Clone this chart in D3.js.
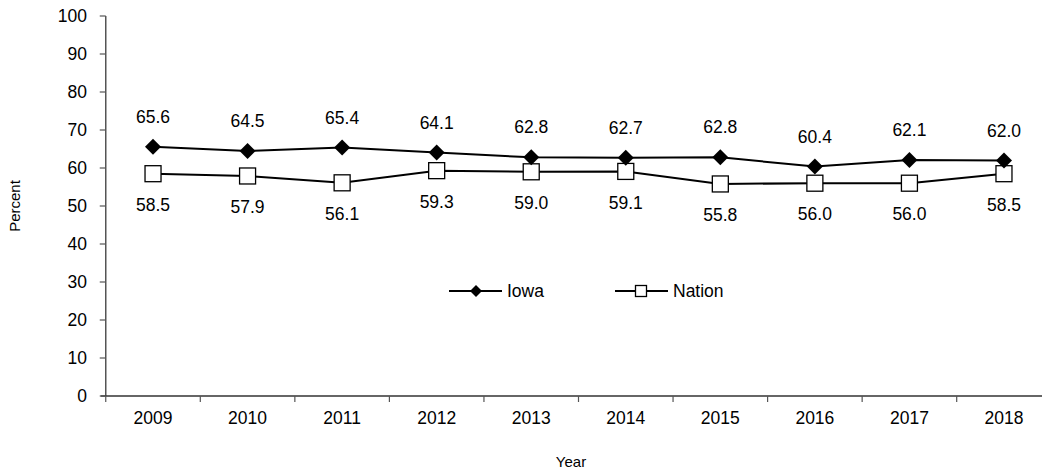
<!DOCTYPE html>
<html><head><meta charset="utf-8">
<script src="https://cdn.jsdelivr.net/npm/d3@7"></script>
<style>body{margin:0;background:#fff}svg{display:block;font-family:"Liberation Sans",Arial,sans-serif}</style>
</head><body><svg id="c" width="1042" height="476"></svg>
<script>
const years = ["2009","2010","2011","2012","2013","2014","2015","2016","2017","2018"];
const iowa = [65.6,64.5,65.4,64.1,62.8,62.7,62.8,60.4,62.1,62.0];
const nation = [58.5,57.9,56.1,59.3,59.0,59.1,55.8,56.0,56.0,58.5];
const yTicks = [0,10,20,30,40,50,60,70,80,90,100];

const svg = d3.select("#c");
const x = d3.scaleBand().domain(years).range([105.75, 1051.25]);
const y = d3.scaleLinear().domain([0,100]).range([396, 16]);
const cx = d => x(d) + x.bandwidth()/2;
const FS = 17.5;

// axes
const axisColor = "#555";
svg.append("line").attr("x1",x.range()[0]).attr("x2",x.range()[0]).attr("y1",y(0)).attr("y2",y(100)).attr("stroke",axisColor).attr("stroke-width",1.5);
svg.append("line").attr("x1",x.range()[0]-5).attr("x2",1042).attr("y1",y(0)).attr("y2",y(0)).attr("stroke","#333").attr("stroke-width",1.5);
yTicks.forEach(t=>{
  svg.append("line").attr("x1",x.range()[0]-6).attr("x2",x.range()[0]).attr("y1",y(t)).attr("y2",y(t)).attr("stroke",axisColor).attr("stroke-width",1.2);
  svg.append("text").attr("x",87).attr("y",y(t)).attr("dy","0.35em").attr("text-anchor","end").attr("font-size",FS).text(t);
});
years.forEach((yr,i)=>{
  svg.append("line").attr("x1",x(yr)).attr("x2",x(yr)).attr("y1",y(0)).attr("y2",y(0)+6).attr("stroke",axisColor).attr("stroke-width",1.2);
  svg.append("text").attr("x",cx(yr)).attr("y",418).attr("dy","0.35em").attr("text-anchor","middle").attr("font-size",FS).text(yr);
});
svg.append("text").attr("transform","translate(20,206) rotate(-90)").attr("text-anchor","middle").attr("font-size",15).text("Percent");
svg.append("text").attr("x",571).attr("y",462).attr("dy","0.35em").attr("text-anchor","middle").attr("font-size",15).text("Year");

const line = d3.line().x((d,i)=>cx(years[i])).y(d=>y(d));
svg.append("path").attr("d",line(nation)).attr("fill","none").attr("stroke","#000").attr("stroke-width",2);
svg.append("path").attr("d",line(iowa)).attr("fill","none").attr("stroke","#000").attr("stroke-width",2);

const diamond = (g,px,py,s)=>g.append("path").attr("d",`M${px},${py-s}L${px+s},${py}L${px},${py+s}L${px-s},${py}Z`).attr("fill","#000");
const square = (g,px,py,s)=>g.append("rect").attr("x",px-s/2).attr("y",py-s/2).attr("width",s).attr("height",s).attr("fill","#fff").attr("stroke","#000").attr("stroke-width",1.3);

nation.forEach((v,i)=>{
  square(svg,cx(years[i]),y(v),16);
  svg.append("text").attr("x",cx(years[i])).attr("y",y(v)+31).attr("dy","0.35em").attr("text-anchor","middle").attr("font-size",FS).text(v.toFixed(1));
});
iowa.forEach((v,i)=>{
  diamond(svg,cx(years[i]),y(v),8);
  svg.append("text").attr("x",cx(years[i])).attr("y",y(v)-30).attr("dy","0.35em").attr("text-anchor","middle").attr("font-size",FS).text(v.toFixed(1));
});

// legend
const ly = 291;
svg.append("line").attr("x1",449).attr("x2",502).attr("y1",ly).attr("y2",ly).attr("stroke","#000").attr("stroke-width",2);
diamond(svg,476,ly,6);
svg.append("text").attr("x",507).attr("y",ly).attr("dy","0.35em").attr("font-size",FS).text("Iowa");
svg.append("line").attr("x1",615).attr("x2",668).attr("y1",ly).attr("y2",ly).attr("stroke","#000").attr("stroke-width",2);
square(svg,641,ly,11);
svg.append("text").attr("x",673).attr("y",ly).attr("dy","0.35em").attr("font-size",FS).text("Nation");
</script></body></html>
